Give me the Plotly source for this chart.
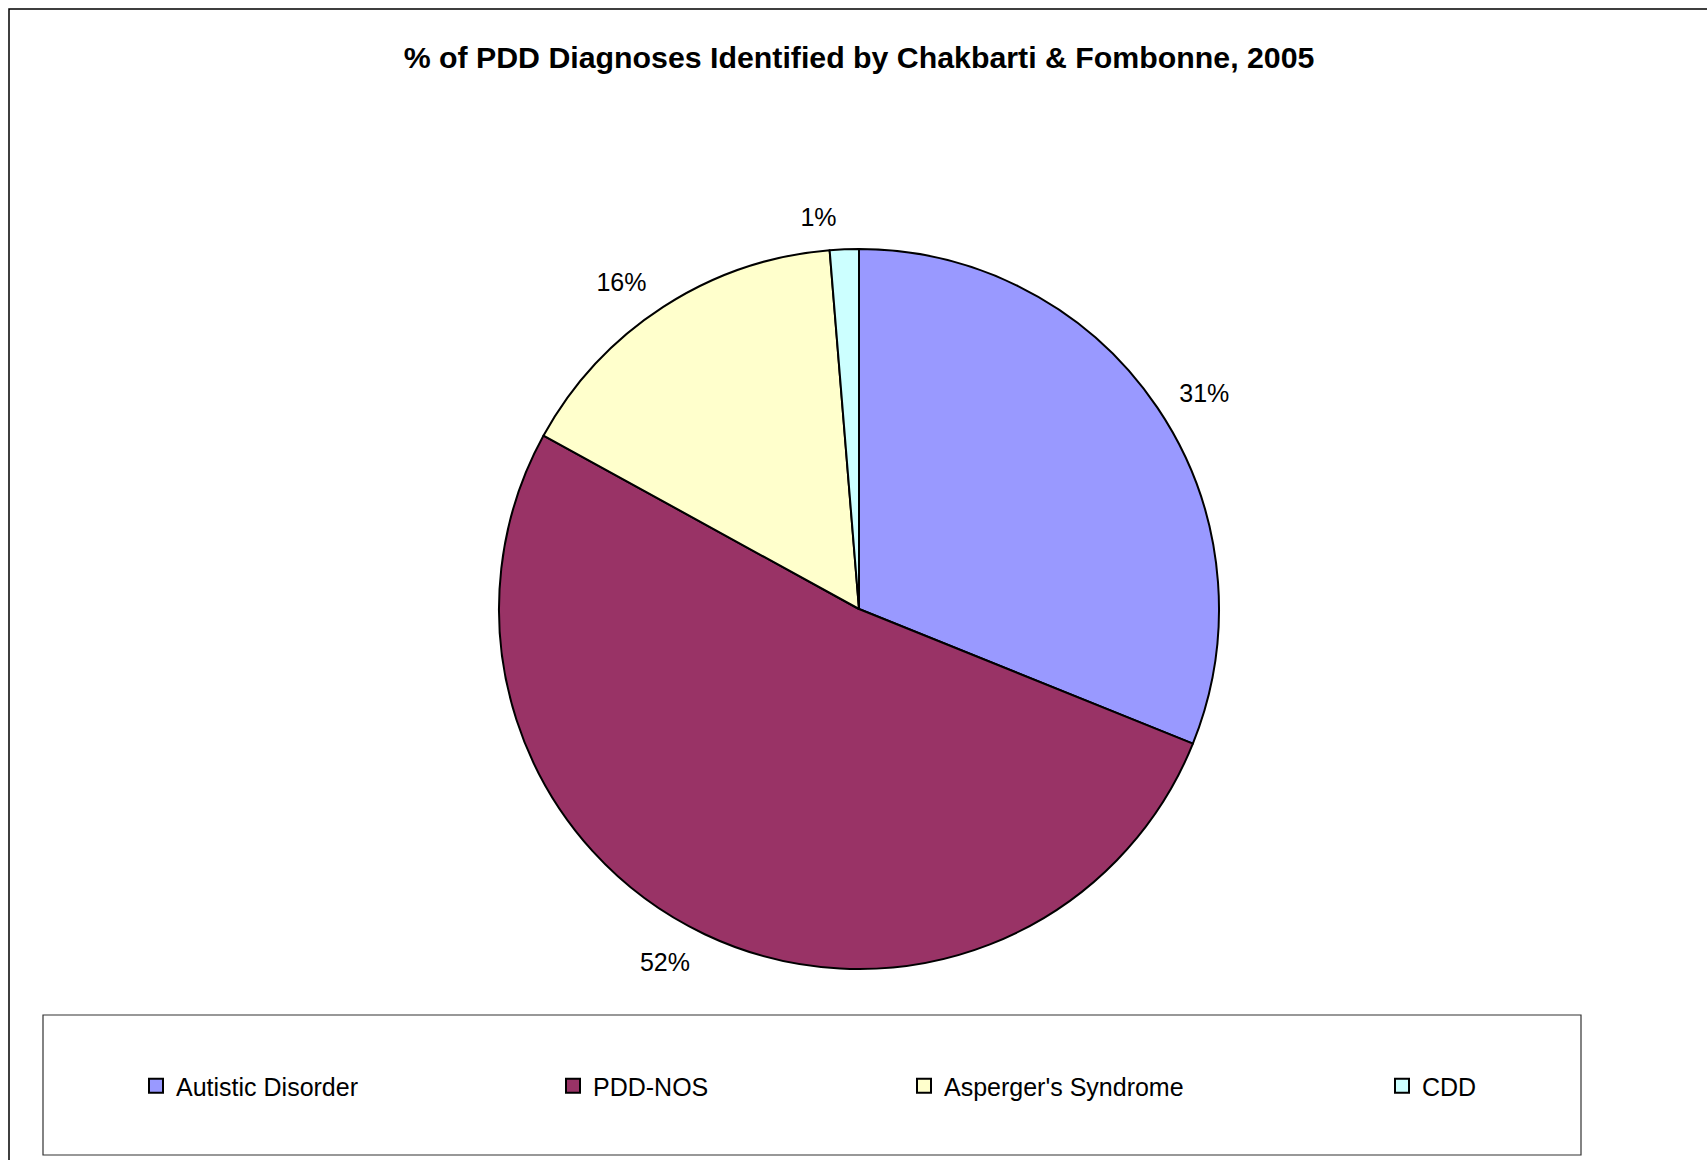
import plotly.graph_objects as go

labels = ["Autistic Disorder", "PDD-NOS", "Asperger's Syndrome", "CDD"]
values = [31.1, 51.9, 15.7, 1.3]
colors = ["#9999FF", "#993366", "#FFFFCC", "#CCFFFF"]
title_text = "% of PDD Diagnoses Identified by Chakbarti & Fombonne, 2005"

W, H = 1707, 1160
cx, cy, r = 859, 609, 360
r_text = 378  # radius of the label ring (labels sit slightly farther out than the pie edge)
legend_text_x = [175, 592, 943, 1421]  # where each legend entry's text starts (px)
legend_y = 1086

FONT = "Arial, Liberation Sans, sans-serif"


def dom(rad):
    return dict(x=[(cx - rad) / W, (cx + rad) / W], y=[1 - (cy + rad) / H, 1 - (cy - rad) / H])


fig = go.Figure()
# main pie (slices)
fig.add_trace(go.Pie(
    labels=labels,
    values=values,
    sort=False,
    direction="clockwise",
    rotation=0,
    marker=dict(colors=colors, line=dict(color="black", width=2)),
    textinfo="none",
    hoverinfo="label+percent",
    showlegend=False,
    domain=dom(r),
))
# label ring: same data, invisible slices, carries the outside percentage labels
fig.add_trace(go.Pie(
    labels=labels,
    values=values,
    sort=False,
    direction="clockwise",
    rotation=0,
    marker=dict(colors=["rgba(0,0,0,0)"] * len(labels), line=dict(width=0)),
    texttemplate="%{percent:.0%}",
    textposition="outside",
    outsidetextfont=dict(family=FONT, size=25, color="black"),
    hoverinfo="skip",
    showlegend=False,
    domain=dom(r_text),
))

# legend entries (one legend per category so they can be spaced like the original)
legend_layouts = {}
for i, (lab, col) in enumerate(zip(labels, colors)):
    lid = "legend" if i == 0 else f"legend{i + 1}"
    fig.add_trace(go.Scatter(
        x=[None], y=[None], mode="markers", name=lab,
        marker=dict(symbol="square", size=14, color=col, line=dict(color="black", width=2)),
        hoverinfo="skip", showlegend=True, legend=lid,
    ))
    legend_layouts[lid] = dict(
        orientation="h", x=(legend_text_x[i] - 39) / W, xanchor="left",
        y=1 - legend_y / H, yanchor="middle",
        bgcolor="rgba(0,0,0,0)", borderwidth=0,
        font=dict(family=FONT, size=25, color="black"),
    )

fig.update_layout(
    width=W, height=H,
    margin=dict(l=0, r=0, t=0, b=0),
    paper_bgcolor="white",
    plot_bgcolor="rgba(0,0,0,0)",
    xaxis=dict(visible=False),
    yaxis=dict(visible=False),
    font=dict(family=FONT, size=25, color="black"),
    title=dict(text="<b>" + title_text + "</b>", x=859 / W, xanchor="center",
               y=1 - 57 / H, yanchor="middle", yref="paper",
               font=dict(size=30.3, color="black")),
    shapes=[
        dict(type="rect", xref="paper", yref="paper", x0=9 / W, x1=1.02, y0=-0.02, y1=1 - 9 / H,
             line=dict(color="black", width=1.5), fillcolor="rgba(0,0,0,0)", layer="above"),
        dict(type="rect", xref="paper", yref="paper", x0=43 / W, x1=1581 / W, y0=1 - 1155 / H, y1=1 - 1015 / H,
             line=dict(color="#333333", width=1.2), fillcolor="rgba(0,0,0,0)", layer="above"),
    ],
    **legend_layouts,
)

fig.write_html("out.html", config={"displayModeBar": False},
               post_script="document.body.style.margin='0';document.body.style.overflow='hidden';")
